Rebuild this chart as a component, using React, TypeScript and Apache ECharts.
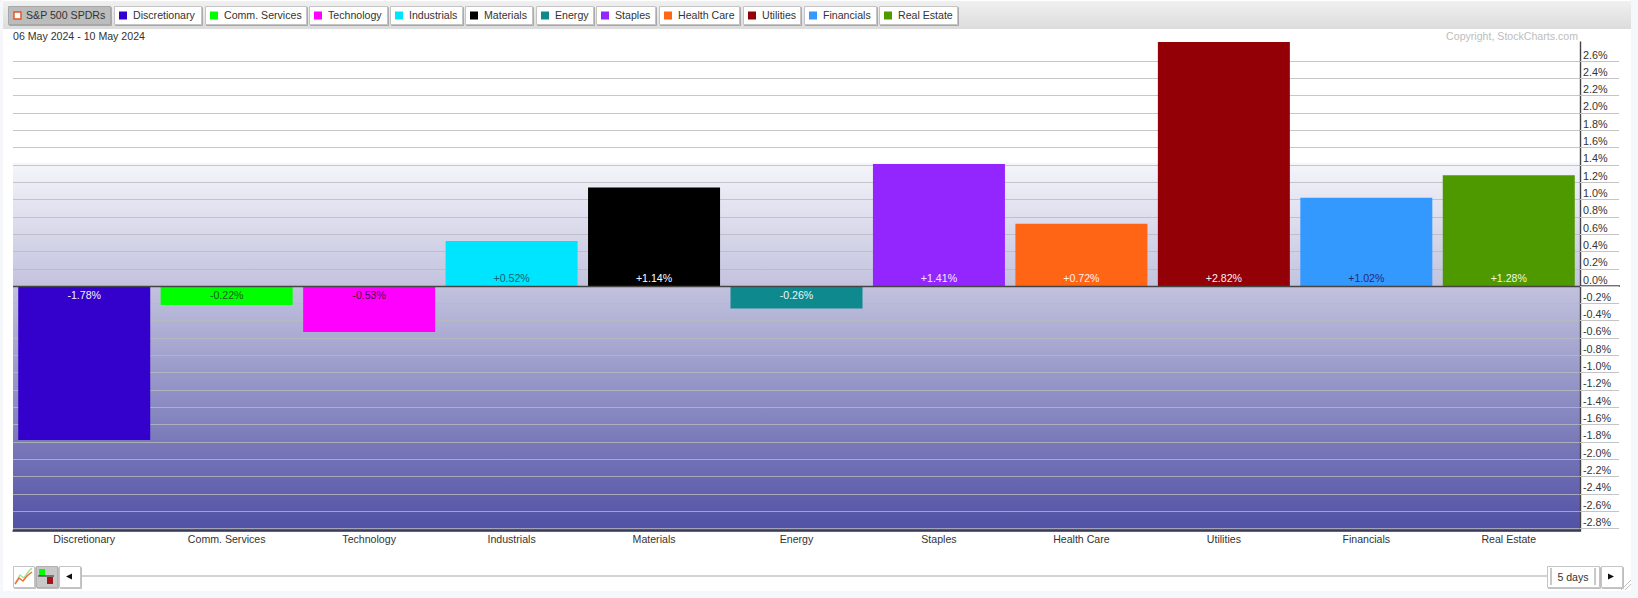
import React, { useEffect, useRef } from "react";
import * as echarts from "echarts";

const categories = ["Discretionary", "Comm. Services", "Technology", "Industrials", "Materials", "Energy", "Staples", "Health Care", "Utilities", "Financials", "Real Estate"];
const values = [-1.78, -0.22, -0.53, 0.52, 1.14, -0.26, 1.41, 0.72, 2.82, 1.02, 1.28];
const colors = ["#3300cc", "#00ff00", "#ff00ff", "#00e5ff", "#000000", "#0e8a8f", "#9326ff", "#ff6514", "#930006", "#3399ff", "#4f9900"];
const labelColors = ["#f2f2ff", "#1c5a1c", "#4a0a4a", "#14626e", "#ffffff", "#eaf6f6", "#f4ecff", "#fff0e6", "#ffeeee", "#2a2a6a", "#f2f8e8"];
const tickValues = [-2.8, -2.6, -2.4, -2.2, -2.0, -1.8, -1.6, -1.4, -1.2, -1.0, -0.8, -0.6, -0.4, -0.2, 0, 0.2, 0.4, 0.6, 0.8, 1.0, 1.2, 1.4, 1.6, 1.8, 2.0, 2.2, 2.4, 2.6];
const legendButtons: [string, number, number][] = [["Discretionary", 114, 201], ["Comm. Services", 205, 306], ["Technology", 309, 387], ["Industrials", 390, 462], ["Materials", 465, 532], ["Energy", 536, 593], ["Staples", 596, 655], ["Health Care", 659, 739], ["Utilities", 743, 800], ["Financials", 804, 876], ["Real Estate", 879, 957]];
const dateRange = "06 May 2024 - 10 May 2024";
const copyright = "Copyright, StockCharts.com";
const FONT = "'Liberation Sans', Arial, sans-serif";
const SIZE = 10.6;
const ZERO_Y = 286;

const button = (x: number, y: number, w: number, h: number, fill = "#ffffff", stroke = "#c4c4c4") => ({
  type: "rect", shape: { x: x + 0.5, y: y + 0.5, width: w, height: h }, style: { fill, stroke, lineWidth: 1, shadowColor: "rgba(0,0,0,0.25)", shadowOffsetX: 1, shadowOffsetY: 1, shadowBlur: 1 },
});
const txt = (x: number, y: number, text: string, fill = "#333333", align = "left", size = SIZE) => ({
  type: "text", x, y, style: { text, fill, font: `${size}px ${FONT}`, textAlign: align, textVerticalAlign: "middle" },
});

function buildGraphic() {
  const els: any[] = [
    { type: "rect", shape: { x: 3, y: 1, width: 1628, height: 28 }, style: { fill: new echarts.graphic.LinearGradient(0, 0, 0, 1, [{ offset: 0, color: "#f0f0f0" }, { offset: 1, color: "#dcdcdc" }]) } },
    button(8, 6, 102, 18, "#bcbcbc", "#a8a8a8"),
    { type: "rect", shape: { x: 14, y: 12, width: 7, height: 7 }, style: { fill: "#ffffff", stroke: "#e8501c", lineWidth: 1.4 } },
    txt(26, 15, "S&P 500 SPDRs", "#333333"),
    txt(13, 35.5, dateRange, "#333333"),
    txt(1578, 35.5, copyright, "#bdbdbd", "right"),
    { type: "line", shape: { x1: 1580, y1: ZERO_Y, x2: 1620, y2: ZERO_Y }, style: { stroke: "#444444", lineWidth: 1.4 } },
    // bottom toolbar
    button(13, 566, 21, 21, "#ffffff"),
    { type: "polyline", shape: { points: [[16, 582], [20, 575], [24, 578], [29, 571], [32, 568]] }, style: { stroke: "#9be59b", fill: "none", lineWidth: 1.5 } },
    { type: "polyline", shape: { points: [[15, 584], [19, 578], [23, 581], [27, 576], [32, 572]] }, style: { stroke: "#f07030", fill: "none", lineWidth: 1.5 } },
    button(36, 566, 21, 21, "#c8c8c8", "#b0b0b0"),
    { type: "rect", shape: { x: 39, y: 569, width: 6, height: 7 }, style: { fill: "#00ff00" } },
    { type: "line", shape: { x1: 38, y1: 576, x2: 54, y2: 576 }, style: { stroke: "#222222", lineWidth: 1 } },
    { type: "rect", shape: { x: 47, y: 577, width: 6, height: 7 }, style: { fill: "#a01818" } },
    button(59, 566, 21, 21, "#ffffff"),
    { type: "polygon", shape: { points: [[66, 576.5], [72, 573.5], [72, 579.5]] }, style: { fill: "#111111" } },
    { type: "line", shape: { x1: 82, y1: 576, x2: 1547, y2: 576 }, style: { stroke: "#a8a8a8", lineWidth: 1.2 } },
    button(1547, 566, 52, 21, "#ffffff"),
    { type: "line", shape: { x1: 1551, y1: 568, x2: 1551, y2: 585 }, style: { stroke: "#c8c8c8", lineWidth: 2 } },
    { type: "line", shape: { x1: 1595, y1: 568, x2: 1595, y2: 585 }, style: { stroke: "#c8c8c8", lineWidth: 2 } },
    txt(1573, 576.5, "5 days", "#333333", "center"),
    button(1601, 566, 21, 21, "#ffffff"),
    { type: "polygon", shape: { points: [[1608, 573.5], [1614, 576.5], [1608, 579.5]] }, style: { fill: "#111111" } },
    { type: "line", shape: { x1: 1621, y1: 590, x2: 1631, y2: 580 }, style: { stroke: "#c0c0c0", lineWidth: 1 } },
    { type: "line", shape: { x1: 1625, y1: 590, x2: 1631, y2: 584 }, style: { stroke: "#c0c0c0", lineWidth: 1 } },
  ];
  legendButtons.forEach(([name, x0, x1], i) => {
    els.push(button(x0, 6, x1 - x0, 18));
    els.push({ type: "rect", shape: { x: x0 + 5, y: 11.5, width: 8, height: 8 }, style: { fill: colors[i] } });
    els.push(txt(x0 + 19, 15, name));
  });
  return els;
}

export default function App() {
  const ref = useRef<HTMLDivElement>(null);
  useEffect(() => {
    document.body.style.margin = "0";
    const chart = echarts.init(ref.current!, undefined, { renderer: "svg" });
    chart.setOption({
      animation: false,
      textStyle: { fontFamily: FONT },
      grid: {
        left: 13, right: 58, top: 42, bottom: 67, show: true, borderWidth: 0,
        backgroundColor: new echarts.graphic.LinearGradient(0, 0, 0, 1, [
          { offset: 0, color: "#ffffff" }, { offset: 0.245, color: "#ffffff" }, { offset: 0.25, color: "#f4f4fa" },
          { offset: 0.5, color: "#c2c2de" }, { offset: 1, color: "#5050a5" },
        ]),
      },
      xAxis: {
        type: "category", data: categories, position: "bottom",
        axisLine: { onZero: false, lineStyle: { color: "#333344", width: 1.5 } },
        axisTick: { show: false },
        axisLabel: { color: "#333333", fontSize: SIZE, margin: 2, interval: 0, fontFamily: FONT },
      },
      yAxis: {
        type: "value", position: "right", min: -2.83, max: 2.82,
        axisLine: { show: true, lineStyle: { color: "#444444", width: 1.4 } },
        axisTick: { show: true, length: 39, customValues: tickValues, lineStyle: { color: "#c4c4c4", width: 1.2 } },
        axisLabel: {
          color: "#333333", fontSize: 10.8, margin: 3, align: "left", verticalAlign: "bottom", customValues: tickValues, fontFamily: FONT,
          lineHeight: 13,
          formatter: (v: number) => `${v.toFixed(1)}%`,
        },
        splitLine: { show: true, lineStyle: { color: "rgba(185,185,190,0.8)", width: 1.2 } },
      },
      series: [{
        type: "bar", barWidth: 132,
        data: values.map((v, i) => ({
          value: v, itemStyle: { color: colors[i] },
          label: { color: labelColors[i], position: v >= 0 ? "insideBottom" : "insideTop" },
        })),
        label: { show: true, fontSize: SIZE, distance: 3, fontFamily: FONT, formatter: (p: any) => `${p.value >= 0 ? "+" : ""}${p.value.toFixed(2)}%` },
        markLine: { silent: true, symbol: "none", label: { show: false }, lineStyle: { color: "#444444", width: 1.4, type: "solid" }, data: [{ yAxis: 0 }] },
      }],
      graphic: buildGraphic(),
    });
    return () => chart.dispose();
  }, []);
  return (
    <div style={{ position: "relative", width: 1638, height: 598, background: "#f6f7fb", overflow: "hidden" }}>
      <div style={{ position: "absolute", left: 3, top: 0, width: 1628, height: 591, background: "#ffffff" }} />
      <div ref={ref} style={{ position: "absolute", left: 0, top: 0, width: 1638, height: 598 }} />
    </div>
  );
}
